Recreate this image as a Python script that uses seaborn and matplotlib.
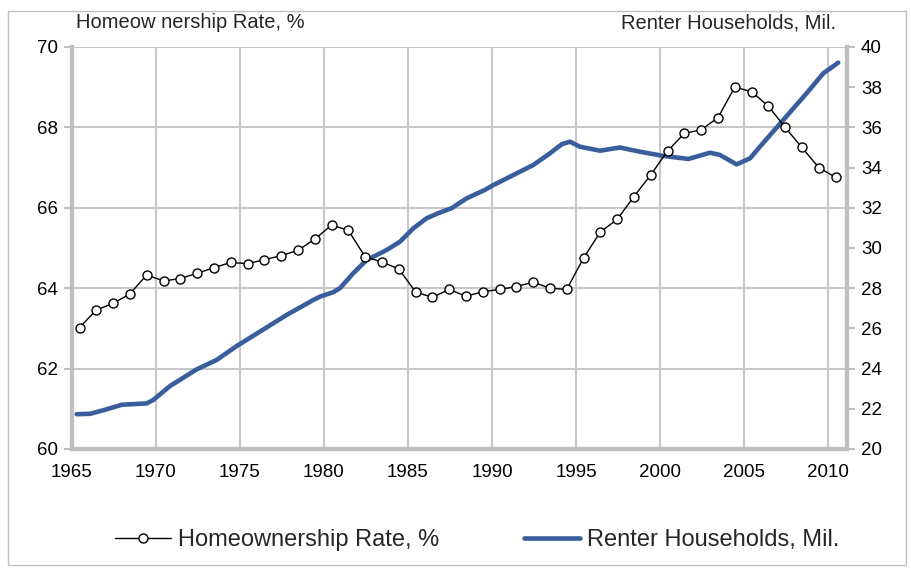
import numpy as np
import pandas as pd
import seaborn as sns
import matplotlib.pyplot as plt
from matplotlib.patches import Rectangle
from matplotlib.ticker import FixedLocator

sns.set_style('white')
plt.rcParams['font.family'] = ['Liberation Sans', 'DejaVu Sans']

# 住房拥有率，年度数据
years = list(range(1965, 2011))
home_rate = [63.02, 63.46, 63.62, 63.86, 64.33, 64.18, 64.24, 64.37, 64.51, 64.64,
             64.61, 64.71, 64.81, 64.94, 65.22, 65.57, 65.44, 64.78, 64.65, 64.48,
             63.91, 63.77, 63.97, 63.80, 63.91, 63.97, 64.04, 64.15, 64.00, 63.97,
             64.75, 65.40, 65.71, 66.28, 66.82, 67.41, 67.85, 67.94, 68.24, 69.00,
             68.89, 68.53, 68.00, 67.50, 67.00, 66.76]

# 租房家庭数（百万），平滑曲线
renter_t = [1965.28, 1966.07, 1966.96, 1967.96, 1969.45, 1969.84, 1970.83, 1972.42,
            1973.61, 1974.80, 1976.19, 1977.78, 1979.36, 1979.76, 1980.55, 1980.95,
            1981.74, 1982.54, 1983.73, 1984.52, 1985.32, 1986.11, 1986.80, 1987.60,
            1988.49, 1989.58, 1990.08, 1991.27, 1992.46, 1993.45, 1994.15, 1994.64,
            1995.24, 1996.43, 1997.62, 1998.81, 2000.20, 2001.69, 2002.98, 2003.57,
            2004.56, 2005.36, 2005.95, 2007.34, 2008.73, 2009.72, 2010.61]
renter_mil = [21.73, 21.75, 21.95, 22.20, 22.27, 22.44, 23.13, 23.96,
              24.43, 25.12, 25.84, 26.67, 27.41, 27.58, 27.80, 28.00,
              28.74, 29.40, 29.90, 30.31, 30.98, 31.48, 31.73, 31.98,
              32.47, 32.89, 33.13, 33.63, 34.13, 34.71, 35.16, 35.29,
              35.04, 34.84, 35.00, 34.79, 34.58, 34.43, 34.74, 34.63,
              34.16, 34.46, 35.04, 36.37, 37.70, 38.69, 39.22]

home = pd.DataFrame({'year': np.array(years) + 0.45, 'rate': home_rate})
renter = pd.DataFrame({'t': renter_t, 'mil': renter_mil})

grid_c = '#C8C8C8'
spine_c = '#BFBFBF'
blue = '#3A5D9C'

fig = plt.figure(figsize=(9.11, 5.69), dpi=100)
ax = fig.add_axes([0.079, 0.2109, 0.8507, 0.7065])
ax2 = ax.twinx()

# 先画租房家庭（底层，右轴），再画住房拥有率（顶层，左轴）
sns.lineplot(data=renter, x='t', y='mil', ax=ax, color=blue, linewidth=3.3)
sns.lineplot(data=home, x='year', y='rate', ax=ax2, color='black', linewidth=1,
             marker='o', markersize=6.5, markerfacecolor='white',
             markeredgecolor='black', markeredgewidth=1)

ax.set_xlim(1965, 2011.13)
ax.set_xticks(range(1965, 2011, 5))
ax.set_ylim(20, 40)
ax2.set_ylim(60, 70)
ax2.set_yticks(range(60, 71, 2))

# 右轴：主刻度画网格，次刻度只显示标签
ax.yaxis.tick_right()
ax.yaxis.set_major_locator(FixedLocator([20, 24, 28, 32, 36, 40]))
ax.yaxis.set_minor_locator(FixedLocator([22, 26, 30, 34, 38]))
ax.yaxis.set_minor_formatter(plt.FuncFormatter(lambda v, p: f'{v:.0f}'))
ax2.yaxis.tick_left()

ax.grid(True, axis='x', color=grid_c, linewidth=1.5)
ax.grid(True, axis='y', which='major', color=grid_c, linewidth=1.5)

for a in (ax, ax2):
    a.set_xlabel('')
    a.set_ylabel('')
    a.spines['top'].set_visible(False)
    for s in ('left', 'right', 'bottom'):
        a.spines[s].set_color(spine_c)
        a.spines[s].set_linewidth(3)
    a.tick_params(which='both', length=6, width=1.5, color=spine_c,
                  labelsize=13.5, labelcolor='black', direction='out', pad=4)
ax.tick_params(axis='x', pad=5)

fig.text(0.083, 0.96, 'Homeow nership Rate, %', fontsize=14.5, va='center', ha='left')
fig.text(0.918, 0.96, 'Renter Households, Mil.', fontsize=14.5, va='center', ha='right')

h_home = ax2.lines[0]
h_rent = ax.lines[0]
fig.legend([h_home, h_rent], ['Homeownership Rate, %', 'Renter Households, Mil.'],
           loc='center', bbox_to_anchor=(0.524, 0.051), ncol=2, frameon=False,
           fontsize=17, handlelength=2.35, handletextpad=0.3, columnspacing=3.6)

fig.patches.append(Rectangle((0.0088, 0.007), 0.9857, 0.9737, transform=fig.transFigure,
                             fill=False, edgecolor='#C0C0C0', linewidth=1))

fig.savefig('out.png', dpi=100)
